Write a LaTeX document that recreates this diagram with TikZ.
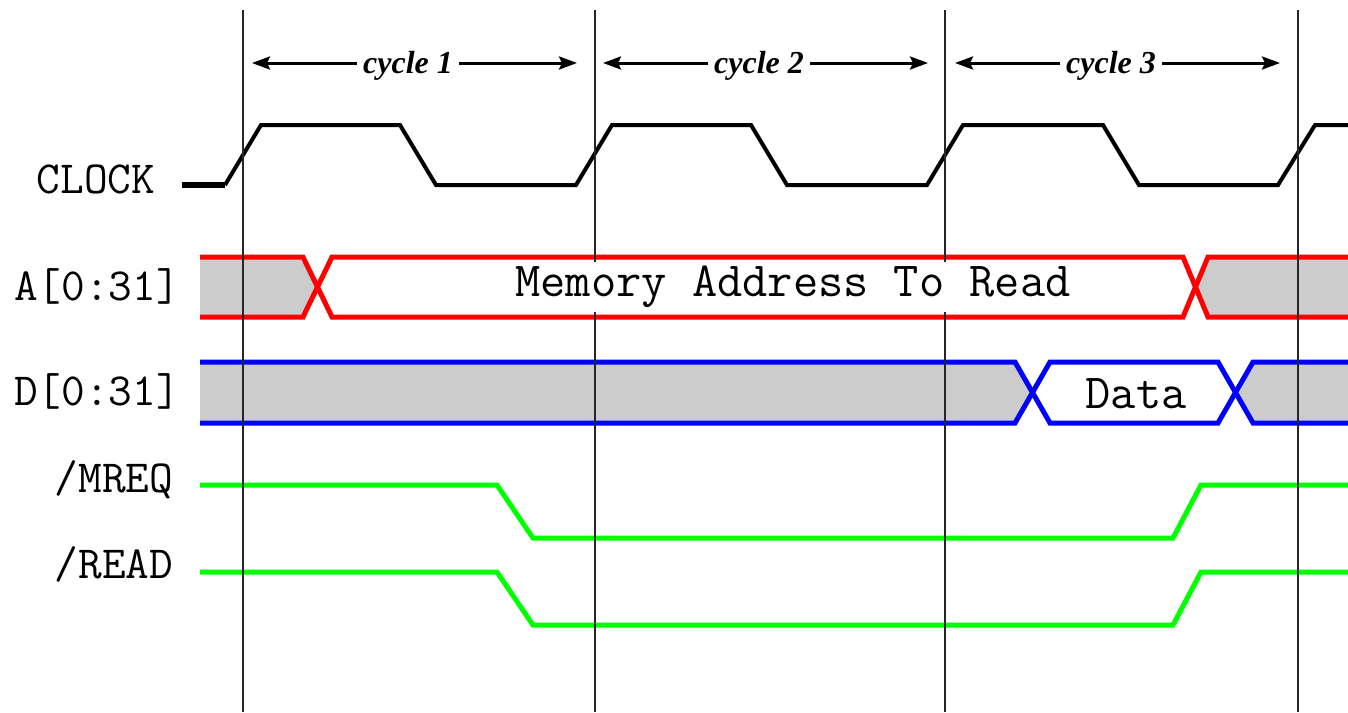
\documentclass[tikz,border=0pt]{standalone}
\usepackage{fontspec}
\usetikzlibrary{arrows.meta}
\newfontfamily\cyclefont{Liberation Serif}
\definecolor{busgray}{RGB}{204,204,204}
\definecolor{sigred}{RGB}{255,0,0}
\definecolor{sigblue}{RGB}{0,0,255}
\definecolor{siggreen}{RGB}{0,255,0}
\tikzset{
  clk/.style={line width=4pt, black},
  abus/.style={line width=5pt, sigred},
  dbus/.style={line width=5pt, sigblue},
  gsig/.style={line width=5pt, siggreen},
  grayfill/.style={fill=busgray, draw=none},
  vline/.style={line width=1.5pt, black!85},
  cyclearrow/.style={line width=3pt, black, -{Stealth[length=18pt,width=13pt,inset=3pt]}},
  cyclelabel/.style={font=\cyclefont\bfseries\itshape\fontsize{32}{36}\selectfont, inner sep=6pt},
  siglabel/.style={font=\ttfamily\fontsize{46}{52}\selectfont, anchor=base, inner sep=0pt},
  buslabel/.style={font=\ttfamily\fontsize{46}{52}\selectfont, anchor=base, inner sep=0pt},
  bustext/.style={font=\ttfamily\fontsize{49}{54}\selectfont, inner sep=0pt},
}
\begin{document}
\begin{tikzpicture}[x=1pt,y=-1pt]
\useasboundingbox (0,0) rectangle (1348,712);
% gray fills
\path[grayfill] (200,257) -- (303,257) -- (317.5,287) -- (303,317) -- (200,317) -- cycle;
\path[grayfill] (1195.5,287) -- (1208,257) -- (1348,257) -- (1348,317) -- (1208,317) -- cycle;
\path[grayfill] (200,362) -- (1015,362) -- (1032.5,392.5) -- (1015,423) -- (200,423) -- cycle;
\path[grayfill] (1235.5,392.5) -- (1253,362) -- (1348,362) -- (1348,423) -- (1253,423) -- cycle;
% clock
\draw[clk, line width=6pt] (182,185) -- (225,185);
\draw[clk] (225,185) -- (261,125) -- (400,125) -- (436,185) -- (576,185) -- (612,125)
  -- (751,125) -- (787,185) -- (927,185) -- (963,125) -- (1103,125) -- (1139,185)
  -- (1278,185) -- (1315,125) -- (1348,125);
% address bus
\draw[abus] (200,257) -- (303,257) -- (332,317) -- (1183,317) -- (1208,257) -- (1348,257);
\draw[abus] (200,317) -- (303,317) -- (332,257) -- (1183,257) -- (1208,317) -- (1348,317);
% data bus
\draw[dbus] (200,362) -- (1015,362) -- (1050,423) -- (1218,423) -- (1253,362) -- (1348,362);
\draw[dbus] (200,423) -- (1015,423) -- (1050,362) -- (1218,362) -- (1253,423) -- (1348,423);
% control signals
\draw[gsig] (200,485) -- (497,485) -- (533,538) -- (1173,538) -- (1201,485) -- (1348,485);
\draw[gsig] (200,572) -- (497,572) -- (533,625) -- (1173,625) -- (1201,572) -- (1348,572);
% cycle boundaries
\coordinate (t0a) at (243,10); \coordinate (t0b) at (243,712);
\coordinate (t1a) at (595,10); \coordinate (t1b) at (595,712);
\coordinate (t2a) at (945,10); \coordinate (t2b) at (945,712);
\coordinate (t3a) at (1298,10); \coordinate (t3b) at (1298,712);
\draw[vline] (t0a) -- (t0b);
\draw[vline] (t1a) -- (t1b);
\draw[vline] (t2a) -- (t2b);
\draw[vline] (t3a) -- (t3b);
% bus texts
\node[bustext, fill=white, minimum width=660pt, minimum height=50pt] (memtxt) at (793,287) {Memory Address To Read};
\node[bustext] (datatxt) at (1136,394) {Data};
% cycle labels and arrows
\node[cyclelabel] (c1) at (408,66) {cycle 1};
\node[cyclelabel] (c2) at (759,66) {cycle 2};
\node[cyclelabel] (c3) at (1111,66) {cycle 3};
\coordinate (c1l) at (252,63); \coordinate (c1r) at (577,63);
\coordinate (c2l) at (603,63); \coordinate (c2r) at (928,63);
\coordinate (c3l) at (955,63); \coordinate (c3r) at (1280,63);
\draw[cyclearrow] (c1.west |- c1l) -- (c1l);
\draw[cyclearrow] (c1.east |- c1r) -- (c1r);
\draw[cyclearrow] (c2.west |- c2l) -- (c2l);
\draw[cyclearrow] (c2.east |- c2r) -- (c2r);
\draw[cyclearrow] (c3.west |- c3l) -- (c3l);
\draw[cyclearrow] (c3.east |- c3r) -- (c3r);
% signal names
\node[siglabel] (lclk) at (96,193) {CLOCK};
\node[buslabel] (la) at (97,300) {A[0:31]};
\node[buslabel] (ld) at (97,405) {D[0:31]};
\node[siglabel] (lmreq) at (114,492) {/MREQ};
\node[siglabel] (lread) at (114,578) {/READ};
\end{tikzpicture}
\end{document}
